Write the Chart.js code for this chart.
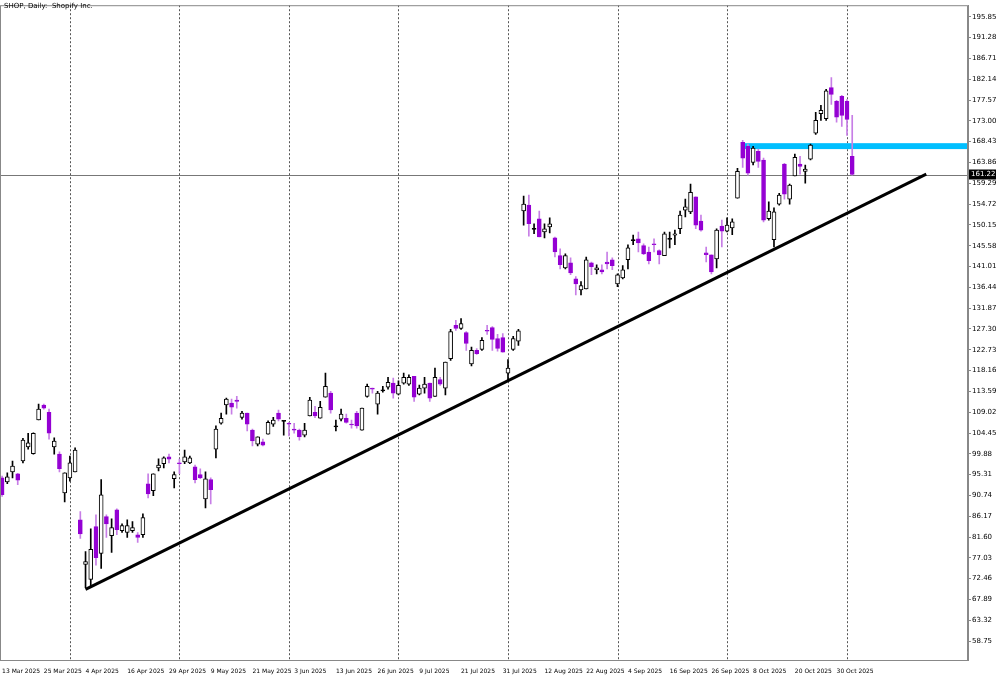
<!DOCTYPE html>
<html><head><meta charset="utf-8">
<script src="https://cdn.jsdelivr.net/npm/chart.js@4.4.0/dist/chart.umd.min.js"></script>
<style>html,body{margin:0;padding:0;background:#fff}#w{width:1000px;height:675px}</style>
</head><body><div id="w"><canvas id="c"></canvas></div>
<script>
const opens = [94.6,93.7,95.9,95.5,98.3,101.4,99.9,107.3,110.6,109.0,101.4,99.8,91.3,94.6,95.9,85.4,75.6,72.3,83.9,78.0,86.1,81.9,87.6,83.0,82.6,83.0,82.1,82.1,93.3,91.8,96.8,97.7,99.2,94.4,97.9,98.1,97.9,97.0,95.3,90.0,94.2,100.9,106.6,110.6,111.0,111.7,107.9,108.8,105.1,102.0,102.5,104.2,106.4,108.8,107.1,106.6,105.3,105.1,104.0,108.2,109.0,107.7,112.3,113.2,105.9,107.5,107.7,106.4,108.8,105.1,112.5,114.3,110.8,113.8,114.5,115.4,113.0,115.4,115.2,116.9,113.0,114.3,115.4,112.5,116.2,114.3,120.8,128.1,127.4,126.5,119.6,122.6,122.8,127.0,127.6,125.2,125.4,117.6,122.8,124.6,153.2,154.5,149.3,151.5,148.6,149.7,147.3,143.4,140.7,141.8,138.3,135.9,136.1,141.8,140.3,140.3,142.0,142.5,137.2,138.5,142.5,146.8,147.1,145.6,144.2,146.0,144.5,143.4,147.1,147.9,149.3,153.4,153.0,156.3,151.0,144.0,143.6,142.7,149.9,148.8,149.5,156.0,168.3,167.4,163.9,166.3,164.4,151.5,146.9,154.7,163.5,155.8,160.9,163.5,161.9,164.6,170.3,174.6,173.5,180.3,177.3,178.4,177.3,165.2];
const highs = [95.0,95.7,98.3,95.6,103.3,104.4,104.5,110.8,110.8,109.7,103.4,100.3,95.7,99.4,101.2,87.2,78.4,83.4,86.5,94.2,86.5,85.6,87.8,84.5,85.4,85.0,82.6,86.7,95.5,95.5,98.8,99.2,99.8,95.9,98.7,100.7,99.4,97.4,96.6,95.9,94.6,106.0,108.8,112.1,111.9,112.5,109.2,108.8,105.3,103.6,103.1,107.1,107.9,109.5,107.2,106.8,106.6,105.3,106.6,112.3,110.3,111.4,117.6,113.6,107.3,109.7,108.6,107.3,109.2,109.9,115.2,114.3,113.6,114.7,116.7,116.5,115.9,117.6,117.2,116.9,115.0,116.7,115.4,118.7,116.7,120.0,127.2,129.2,129.6,126.7,123.3,123.0,125.4,128.1,127.8,126.1,126.3,120.6,125.7,127.2,156.5,156.7,150.4,153.2,150.4,151.7,147.5,144.9,143.8,142.9,138.8,137.7,143.1,142.0,141.4,141.4,144.2,142.9,139.4,141.2,145.8,147.9,148.6,146.0,145.3,147.1,144.7,148.6,148.6,149.0,153.2,155.8,159.1,156.3,152.3,145.3,143.6,149.3,151.2,151.7,151.5,162.6,168.7,167.9,167.4,166.8,164.8,155.2,153.9,157.1,163.7,159.1,165.7,165.2,163.3,167.9,174.9,176.4,179.9,182.5,177.5,178.6,177.7,174.2];
const lows = [90.5,93.3,94.6,93.1,97.9,100.9,99.8,107.3,109.7,103.1,99.8,95.9,89.3,93.9,95.9,81.3,70.5,70.5,75.4,74.7,81.5,78.2,82.1,82.6,81.5,82.6,80.4,81.5,90.2,90.7,96.1,96.8,97.9,92.4,95.5,97.7,97.7,93.5,94.4,88.0,88.9,99.0,106.4,108.6,108.6,109.9,107.5,104.9,101.6,101.6,101.6,104.2,105.9,107.1,104.0,103.8,104.4,102.9,103.6,108.2,107.8,107.7,112.3,108.8,104.9,107.1,106.6,105.5,105.5,105.1,112.3,113.2,108.6,113.4,114.1,112.1,112.8,115.2,114.9,111.4,112.8,113.2,111.4,112.5,114.9,112.8,120.4,127.0,127.2,122.6,119.2,121.7,122.6,126.1,122.6,122.4,122.2,115.8,122.6,123.7,150.1,147.7,148.2,147.5,147.3,148.4,143.1,140.5,140.5,139.2,134.8,134.8,136.1,139.2,139.4,139.4,140.5,140.3,136.6,138.3,140.5,145.8,144.2,143.6,141.6,144.2,141.6,143.4,145.1,145.8,148.2,151.9,152.6,149.3,148.8,142.0,139.4,140.7,145.3,148.6,148.0,156.0,162.8,161.1,163.3,162.8,150.8,151.2,145.3,154.5,155.8,154.7,160.9,161.3,159.3,164.4,170.0,173.1,173.1,176.6,172.7,171.8,169.8,161.1];
const closes = [90.9,94.8,97.2,94.1,102.9,102.3,104.4,109.7,109.9,104.4,102.7,96.6,95.7,97.9,100.7,82.3,76.2,78.9,77.1,90.9,84.5,83.7,83.2,84.1,84.1,83.7,81.5,85.9,91.1,95.5,97.4,99.0,98.7,95.3,97.7,99.2,99.0,94.2,94.6,94.4,92.0,105.3,107.7,111.9,110.1,111.4,108.8,106.4,102.7,103.6,101.8,106.8,107.3,107.5,107.0,106.4,105.1,103.6,105.1,111.7,108.2,110.1,114.7,109.5,105.8,108.6,106.8,106.2,106.0,109.9,114.7,114.1,113.2,113.9,115.6,113.2,114.9,116.7,116.7,112.3,114.3,115.2,112.1,116.7,115.2,120.0,126.7,127.4,128.5,124.1,122.6,121.9,124.8,126.8,125.0,123.0,122.2,118.7,125.2,126.9,154.7,150.4,149.2,147.5,149.3,150.4,144.2,141.4,143.4,139.6,137.2,136.8,142.5,141.0,140.7,139.8,141.6,141.2,139.2,140.3,145.1,146.9,146.2,143.8,142.3,145.8,143.6,148.2,147.2,148.2,152.3,154.1,157.3,150.1,149.0,143.6,139.8,149.0,148.8,150.1,150.8,161.9,164.8,161.5,167.0,164.1,151.2,153.2,153.0,156.7,156.9,158.9,165.0,163.0,162.4,167.7,173.1,175.3,179.6,178.8,173.8,174.2,173.3,161.22];
const dateLabels = ["13 Mar 2025","25 Mar 2025","4 Apr 2025","16 Apr 2025","29 Apr 2025","9 May 2025","21 May 2025","3 Jun 2025","13 Jun 2025","26 Jun 2025","9 Jul 2025","21 Jul 2025","31 Jul 2025","12 Aug 2025","22 Aug 2025","4 Sep 2025","16 Sep 2025","26 Sep 2025","8 Oct 2025","20 Oct 2025","30 Oct 2025"];
const labelIdx = dateLabels.map((d,i)=>i*8);
const separatorIdx = [13,34,55,76,97,118,139,162];
const priceTicks = Array.from({length:31},(_,k)=>+(58.75+4.57*k).toFixed(2));
const trendX = [16,177.2], trendY = [70.1,161.3];
const zoneFrom = 142, zoneLow = 166.8, zoneHigh = 168.1;
const lastPrice = 161.22;

const BULL='#000000', BEAR='#9400D3', BEARW='#C77EE6';
const isDoji = i => Math.abs(closes[i]-opens[i])<0.15;
const bodies = opens.map((o,i)=>{const c=closes[i]; if(isDoji(i)) return {x:i,y:[o-0.12,o+0.12]}; return {x:i,y:[Math.min(o,c),Math.max(o,c)]};});
const wicks = opens.map((o,i)=>({x:i,y:[lows[i],highs[i]]}));
const bodyFill = opens.map((o,i)=>isDoji(i)?'#000':(closes[i]>=o?'#fff':BEAR));
const bodyBorder = opens.map((o,i)=>isDoji(i)?'#000':(closes[i]>=o?BULL:BEAR));
const wickCol = opens.map((o,i)=>isDoji(i)||closes[i]>=o?BULL:BEARW);

const deco = {
  id:'deco',
  beforeDatasetsDraw(ch){
    const {ctx,chartArea:a,scales:{x,y}}=ch;
    ctx.save();
    ctx.strokeStyle='#555';ctx.lineWidth=1;ctx.setLineDash([2,2]);
    separatorIdx.forEach(i=>{const px=Math.round(x.getPixelForValue(i))+0.5;ctx.beginPath();ctx.moveTo(px,a.top);ctx.lineTo(px,a.bottom);ctx.stroke();});
    ctx.setLineDash([]);
    ctx.fillStyle='#00BFFF';
    const x0=x.getPixelForValue(zoneFrom), y0=y.getPixelForValue(zoneHigh), y1=y.getPixelForValue(zoneLow);
    ctx.fillRect(x0,y0,a.right-x0,y1-y0);
    ctx.strokeStyle='#777';
    const py=Math.round(y.getPixelForValue(lastPrice))+0.5;
    ctx.beginPath();ctx.moveTo(a.left,py);ctx.lineTo(a.right,py);ctx.stroke();
    ctx.restore();
  },
  afterDraw(ch){
    const {ctx,chartArea:a,scales:{y}}=ch;
    ctx.save();
    ctx.strokeStyle='#888';ctx.lineWidth=1;
    ctx.strokeRect(a.left+0.5,a.top+0.5,a.right-a.left-1,a.bottom-a.top);
    const py=y.getPixelForValue(lastPrice);
    ctx.fillStyle='#000';ctx.fillRect(a.right+1,py-5,27,10);
    ctx.fillStyle='#fff';ctx.font='7px "DejaVu Sans"';ctx.textBaseline='middle';
    ctx.fillText(lastPrice.toFixed(2),a.right+3,py);
    ctx.fillStyle='#000';ctx.textBaseline='top';ctx.font='7px "DejaVu Sans"';
    ctx.fillText('SHOP, Daily:  Shopify Inc.',4,3);
    ctx.restore();
  }
};

new Chart(document.getElementById('c'),{
  type:'bar',
  data:{datasets:[
    {type:'line',data:trendX.map((v,i)=>({x:v,y:trendY[i]})),borderColor:'#000',borderWidth:3,pointRadius:0,order:0},
    {data:bodies,backgroundColor:bodyFill,borderColor:bodyBorder,borderWidth:1,borderSkipped:false,barThickness:4,grouped:false,order:1},
    {data:wicks,backgroundColor:wickCol,borderWidth:0,barThickness:1,grouped:false,order:2}
  ]},
  options:{
    responsive:true,maintainAspectRatio:false,animation:false,
    layout:{padding:{top:1,left:0,right:0,bottom:0}},
    plugins:{legend:{display:false},tooltip:{enabled:false}},
    scales:{
      x:{type:'linear',min:-0.4,max:185.2,offset:false,
        grid:{display:false},border:{display:false},
        afterBuildTicks:s=>{s.ticks=labelIdx.map(v=>({value:v}));},
        afterFit:s=>{s.height=15;},
        ticks:{autoSkip:false,maxRotation:0,align:'start',padding:0,color:'#000',font:{family:'DejaVu Sans',size:6},
          callback:(v)=>{const k=labelIdx.indexOf(v);return k>=0?dateLabels[k]:'';}}},
      y:{position:'right',min:54.6,max:198.4,
        grid:{drawOnChartArea:false,tickLength:3,color:'#888'},border:{display:true,color:'#888'},
        afterBuildTicks:s=>{s.ticks=priceTicks.map(v=>({value:v}));},
        afterFit:s=>{s.width=32;},
        ticks:{padding:1,color:'#000',font:{family:'DejaVu Sans',size:7},callback:v=>v.toFixed(2)}}
    }
  },
  plugins:[deco]
});
</script></body></html>
